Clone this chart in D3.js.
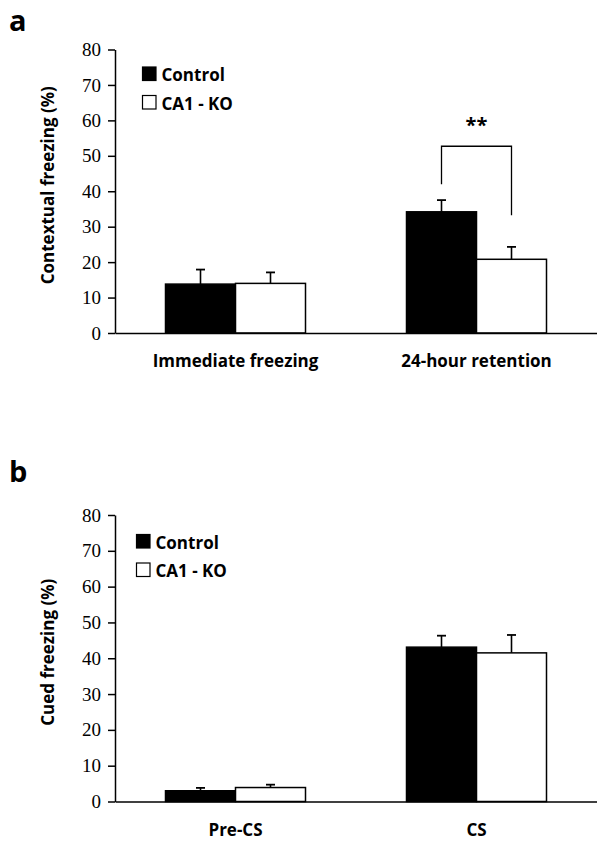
<!DOCTYPE html>
<meta charset="utf-8">
<style>
body { margin: 0; background: #fff; }
.axis path, .axis line { stroke: #000; stroke-width: 1.5px; }
.ytick text { font-family: "Liberation Serif", "Times New Roman", serif; font-size: 19px; fill: #000; }
.xcat text { font-family: "Open Sans", sans-serif; font-weight: bold; font-size: 17px; fill: #000; }
.lab { font-family: "Open Sans", sans-serif; font-weight: bold; fill: #000; }
</style>
<body>
<script src="https://cdn.jsdelivr.net/npm/d3@7"></script>
<script>

// series names
var series = ["Control", "CA1 - KO"];
var yTicks = [0, 10, 20, 30, 40, 50, 60, 70, 80];

// panel a: contextual freezing
var contextCats = ["Immediate freezing", "24-hour retention"];
var contextControl = [13.8, 34.2];
var contextControlSem = [4.1, 3.3];
var contextKO = [14.0, 20.8];
var contextKOSem = [3.1, 3.5];
// bracket over 24-hour: left leg end, right leg end, top (in %)
var contextBracket = [42.0, 33.2, 52.7];

// panel b: cued freezing
var cuedCats = ["Pre-CS", "CS"];
var cuedControl = [3.0, 43.1];
var cuedControlSem = [0.8, 3.2];
var cuedKO = [3.9, 41.5];
var cuedKOSem = [0.8, 5.0];

var svg = d3.select("body").append("svg")
    .attr("width", 597)
    .attr("height", 842);

function drawPanel(opt) {
  var g = svg.append("g");

  var x = d3.scaleBand().domain(opt.cats).range([115, 597]);
  var x1 = d3.scaleBand().domain(series).range([-70, 70]);
  var y = d3.scaleLinear().domain([0, 80]).range([opt.y0, opt.y80]);

  // bars
  var rows = [];
  opt.cats.forEach(function(c, i) {
    rows.push({cat: c, s: series[0], v: opt.control[i], e: opt.controlSem[i]});
    rows.push({cat: c, s: series[1], v: opt.ko[i], e: opt.koSem[i]});
  });

  // error bars (upward only)
  rows.forEach(function(d) {
    var cx = x(d.cat) + x.bandwidth() / 2 + x1(d.s) + x1.bandwidth() / 2;
    g.append("line")
      .attr("x1", cx).attr("x2", cx)
      .attr("y1", y(d.v)).attr("y2", y(d.v + d.e))
      .attr("stroke", "#000").attr("stroke-width", 1.6);
    g.append("line")
      .attr("x1", cx - 4.5).attr("x2", cx + 4.5)
      .attr("y1", y(d.v + d.e)).attr("y2", y(d.v + d.e))
      .attr("stroke", "#000").attr("stroke-width", 1.8);
  });

  g.selectAll("rect.bar").data(rows).enter().append("rect")
    .attr("class", "bar")
    .attr("x", function(d) { return x(d.cat) + x.bandwidth() / 2 + x1(d.s); })
    .attr("width", x1.bandwidth())
    .attr("y", function(d) { return y(d.v); })
    .attr("height", function(d) { return y(0) - y(d.v); })
    .attr("fill", function(d) { return d.s == series[0] ? "#000" : "#fff"; })
    .attr("stroke", "#000")
    .attr("stroke-width", 1.5);

  // y axis
  g.append("g")
    .attr("class", "axis ytick")
    .attr("transform", "translate(115,0)")
    .call(d3.axisLeft(y).tickValues(yTicks).tickSize(7).tickSizeOuter(0).tickPadding(7));

  // x axis with category labels
  g.append("g")
    .attr("class", "axis xcat")
    .attr("transform", "translate(0," + y(0) + ")")
    .call(d3.axisBottom(x).tickSize(0).tickSizeOuter(0).tickPadding(22));

  // y title
  g.append("text")
    .attr("class", "lab")
    .attr("transform", "translate(54," + ((y(0) + y(80)) / 2 - 6) + ") rotate(-90)")
    .attr("text-anchor", "middle")
    .style("font-size", "17px")
    .text(opt.title);

  // panel letter
  g.append("text")
    .attr("class", "lab")
    .attr("x", 9).attr("y", opt.letterY)
    .style("font-size", "29px")
    .text(opt.letter);

  // legend
  series.forEach(function(s, i) {
    var ly = opt.legY + i * 28.5;
    g.append("rect")
      .attr("x", opt.legX).attr("y", ly)
      .attr("width", 13.5).attr("height", 13.5)
      .attr("fill", i == 0 ? "#000" : "#fff")
      .attr("stroke", "#000").attr("stroke-width", 1.2);
    g.append("text")
      .attr("class", "lab")
      .attr("x", opt.legX + 19).attr("y", ly + 14)
      .style("font-size", "17px")
      .text(s);
  });

  return {x: x, x1: x1, y: y, g: g};
}

var pa = drawPanel({
  cats: contextCats, control: contextControl, controlSem: contextControlSem,
  ko: contextKO, koSem: contextKOSem,
  y0: 333, y80: 49.5, title: "Contextual freezing (%)",
  letter: "a", letterY: 31, legX: 142.5, legY: 67
});

var pb = drawPanel({
  cats: cuedCats, control: cuedControl, controlSem: cuedControlSem,
  ko: cuedKO, koSem: cuedKOSem,
  y0: 801.5, y80: 515, title: "Cued freezing (%)",
  letter: "b", letterY: 482, legX: 136.5, legY: 534.5
});

// significance bracket on 24-hour retention
var bc = contextCats[1];
var bxl = pa.x(bc) + pa.x.bandwidth() / 2 + pa.x1(series[0]) + pa.x1.bandwidth() / 2;
var bxr = pa.x(bc) + pa.x.bandwidth() / 2 + pa.x1(series[1]) + pa.x1.bandwidth() / 2;
pa.g.append("path")
  .attr("d", "M" + bxl + "," + pa.y(contextBracket[0]) +
             "V" + pa.y(contextBracket[2]) +
             "H" + bxr +
             "V" + pa.y(contextBracket[1]))
  .attr("fill", "none").attr("stroke", "#000").attr("stroke-width", 1.3);
pa.g.append("text")
  .attr("class", "lab")
  .attr("x", (bxl + bxr) / 2).attr("y", pa.y(contextBracket[2]) - 14)
  .attr("text-anchor", "middle")
  .style("font-size", "20px")
  .text("**");

</script>
</body>
